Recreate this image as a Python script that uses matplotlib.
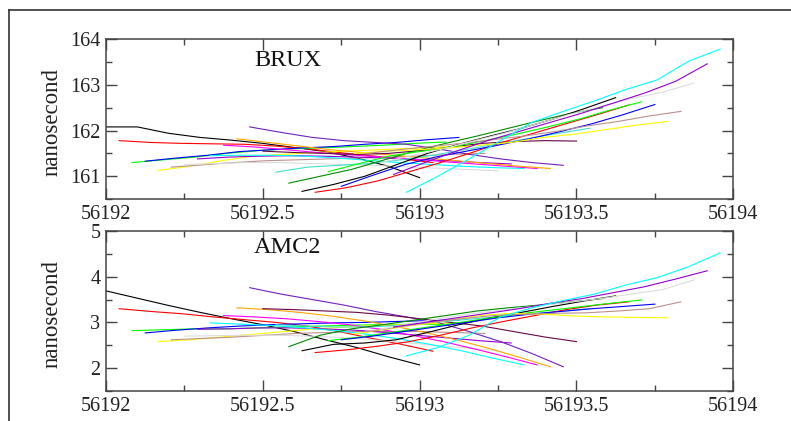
import matplotlib
matplotlib.use("Agg")
import matplotlib.pyplot as plt
from matplotlib.lines import Line2D
from matplotlib.ticker import MultipleLocator, FuncFormatter

# Hourly session starts (MJD); every arc covers one day
session_start = [
    56192.000, 56192.042, 56192.083, 56192.125, 56192.167, 56192.208,
    56192.250, 56192.292, 56192.333, 56192.375, 56192.417, 56192.458,
    56192.500, 56192.542, 56192.583, 56192.625, 56192.667, 56192.708,
    56192.750, 56192.792, 56192.833, 56192.875, 56192.917, 56192.958,
]
offset_days = [0.0, 0.1, 0.2, 0.3, 0.4, 0.5, 0.6, 0.7, 0.8, 0.9, 1.0]

# BRUX clock offset per session (ns)
brux_s00 = [162.08, 162.08, 161.94, 161.85, 161.79, 161.72, 161.63, 161.54, 161.40, 161.22, 160.97]
brux_s01 = [161.78, 161.74, 161.72, 161.71, 161.70, 161.66, 161.60, 161.52, 161.45, 161.38, 161.30]
brux_s02 = [161.30, 161.36, 161.42, 161.50, 161.56, 161.60, 161.62, 161.65, 161.68, 161.72, 161.75]
brux_s03 = [161.33, 161.40, 161.46, 161.54, 161.58, 161.62, 161.65, 161.70, 161.74, 161.80, 161.85]
brux_s04 = [161.13, 161.22, 161.34, 161.44, 161.48, 161.52, 161.55, 161.58, 161.61, 161.64, 161.67]
brux_s05 = [161.20, 161.25, 161.30, 161.34, 161.36, 161.38, 161.40, 161.42, 161.45, 161.48, 161.50]
brux_s06 = [161.25, 161.28, 161.30, 161.30, 161.28, 161.26, 161.24, 161.21, 161.18, 161.15, 161.12]
brux_s07 = [161.38, 161.42, 161.44, 161.45, 161.44, 161.42, 161.40, 161.37, 161.34, 161.30, 161.27]
brux_s08 = [161.45, 161.46, 161.46, 161.44, 161.40, 161.35, 161.30, 161.26, 161.22, 161.19, 161.17]
brux_s09 = [161.68, 161.64, 161.58, 161.52, 161.47, 161.42, 161.38, 161.32, 161.27, 161.22, 161.17]
brux_s10 = [161.82, 161.74, 161.66, 161.58, 161.52, 161.46, 161.40, 161.34, 161.28, 161.22, 161.17]
brux_s11 = [162.08, 161.96, 161.85, 161.78, 161.74, 161.70, 161.60, 161.48, 161.38, 161.30, 161.24]
brux_s12 = [161.55, 161.52, 161.50, 161.48, 161.50, 161.56, 161.64, 161.72, 161.76, 161.78, 161.77]
brux_s13 = [161.09, 161.20, 161.24, 161.28, 161.36, 161.46, 161.58, 161.70, 161.82, 161.94, 162.05]
brux_s14 = [160.85, 161.00, 161.15, 161.35, 161.55, 161.72, 161.88, 162.05, 162.22, 162.38, 162.50]
brux_s15 = [160.67, 160.82, 161.00, 161.25, 161.50, 161.70, 161.88, 162.05, 162.25, 162.48, 162.72]
brux_s16 = [160.65, 160.75, 160.90, 161.10, 161.30, 161.52, 161.75, 161.95, 162.15, 162.35, 162.56]
brux_s17 = [161.10, 161.28, 161.45, 161.55, 161.65, 161.78, 161.92, 162.08, 162.25, 162.45, 162.63]
brux_s18 = [160.78, 161.02, 161.25, 161.42, 161.55, 161.68, 161.82, 161.98, 162.15, 162.35, 162.57]
brux_s19 = [161.50, 161.55, 161.58, 161.62, 161.68, 161.74, 161.85, 161.92, 162.02, 162.12, 162.20]
brux_s20 = [161.50, 161.58, 161.65, 161.72, 161.80, 161.88, 161.98, 162.10, 162.20, 162.32, 162.42]
brux_s21 = [161.30, 161.45, 161.60, 161.78, 161.95, 162.15, 162.35, 162.52, 162.70, 162.84, 163.04]
brux_s22 = [161.04, 161.30, 161.55, 161.78, 161.98, 162.18, 162.38, 162.60, 162.82, 163.08, 163.46]
brux_s23 = [160.65, 161.00, 161.38, 161.78, 162.18, 162.42, 162.65, 162.90, 163.11, 163.52, 163.78]

# AMC2 clock offset per session (ns)
amc2_s00 = [3.69, 3.53, 3.37, 3.22, 3.08, 2.95, 2.80, 2.62, 2.45, 2.25, 2.07]
amc2_s01 = [3.30, 3.24, 3.19, 3.12, 3.06, 3.00, 2.92, 2.80, 2.66, 2.52, 2.37]
amc2_s02 = [2.82, 2.84, 2.86, 2.86, 2.88, 2.90, 2.92, 2.94, 2.95, 2.96, 2.96]
amc2_s03 = [2.77, 2.83, 2.88, 2.92, 2.95, 2.97, 2.99, 3.00, 3.02, 3.04, 3.05]
amc2_s04 = [2.58, 2.62, 2.68, 2.74, 2.80, 2.86, 2.90, 2.93, 2.96, 2.98, 3.00]
amc2_s05 = [2.62, 2.65, 2.68, 2.72, 2.76, 2.78, 2.80, 2.80, 2.80, 2.78, 2.76]
amc2_s06 = [2.70, 2.71, 2.72, 2.72, 2.70, 2.67, 2.62, 2.56, 2.50, 2.44, 2.38]
amc2_s07 = [2.85, 2.86, 2.88, 2.88, 2.86, 2.83, 2.78, 2.72, 2.66, 2.60, 2.55]
amc2_s08 = [2.99, 2.96, 2.93, 2.88, 2.82, 2.74, 2.64, 2.52, 2.38, 2.22, 2.07]
amc2_s09 = [3.15, 3.12, 3.08, 3.02, 2.95, 2.85, 2.72, 2.58, 2.42, 2.25, 2.07]
amc2_s10 = [3.32, 3.28, 3.22, 3.14, 3.04, 2.92, 2.78, 2.62, 2.44, 2.24, 2.03]
amc2_s11 = [3.76, 3.62, 3.50, 3.38, 3.24, 3.12, 3.00, 2.80, 2.58, 2.32, 2.03]
amc2_s12 = [3.30, 3.28, 3.25, 3.22, 3.16, 3.08, 3.00, 2.92, 2.80, 2.68, 2.58]
amc2_s13 = [2.95, 2.92, 2.90, 2.90, 2.94, 3.00, 3.06, 3.12, 3.18, 3.24, 3.30]
amc2_s14 = [2.47, 2.72, 2.86, 2.95, 3.05, 3.15, 3.25, 3.32, 3.38, 3.45, 3.52]
amc2_s15 = [2.38, 2.52, 2.55, 2.62, 2.78, 2.95, 3.10, 3.22, 3.35, 3.47, 3.58]
amc2_s16 = [2.34, 2.40, 2.48, 2.58, 2.72, 2.88, 3.02, 3.15, 3.28, 3.38, 3.45]
amc2_s17 = [2.60, 2.68, 2.78, 2.88, 2.98, 3.08, 3.18, 3.26, 3.34, 3.42, 3.49]
amc2_s18 = [2.62, 2.70, 2.80, 2.90, 3.00, 3.10, 3.18, 3.24, 3.30, 3.35, 3.40]
amc2_s19 = [2.75, 2.85, 2.95, 3.05, 3.15, 3.20, 3.18, 3.14, 3.12, 3.11, 3.10]
amc2_s20 = [2.80, 2.90, 3.00, 3.08, 3.15, 3.18, 3.20, 3.21, 3.25, 3.30, 3.45]
amc2_s21 = [2.85, 2.98, 3.10, 3.20, 3.28, 3.36, 3.44, 3.52, 3.62, 3.72, 3.93]
amc2_s22 = [2.90, 3.00, 3.10, 3.20, 3.30, 3.42, 3.52, 3.65, 3.78, 3.95, 4.13]
amc2_s23 = [2.27, 2.45, 2.72, 3.12, 3.32, 3.48, 3.62, 3.82, 3.98, 4.22, 4.52]

brux_sessions = [
    brux_s00, brux_s01, brux_s02, brux_s03, brux_s04, brux_s05, brux_s06, brux_s07,
    brux_s08, brux_s09, brux_s10, brux_s11, brux_s12, brux_s13, brux_s14, brux_s15,
    brux_s16, brux_s17, brux_s18, brux_s19, brux_s20, brux_s21, brux_s22, brux_s23,
]
amc2_sessions = [
    amc2_s00, amc2_s01, amc2_s02, amc2_s03, amc2_s04, amc2_s05, amc2_s06, amc2_s07,
    amc2_s08, amc2_s09, amc2_s10, amc2_s11, amc2_s12, amc2_s13, amc2_s14, amc2_s15,
    amc2_s16, amc2_s17, amc2_s18, amc2_s19, amc2_s20, amc2_s21, amc2_s22, amc2_s23,
]

# xmgrace default colour cycle (skipping white)
grace_colors = [
    "#000000", "#ff0000", "#00ff00", "#0000ff", "#ffff00", "#bc8f8f", "#dcdcdc",
    "#9400d3", "#00ffff", "#ff00ff", "#ffa500", "#7221bc", "#670748", "#40e0d0",
    "#008b00",
]

plt.rcParams["font.family"] = ["Liberation Serif", "DejaVu Serif"]
frame_color = "#444444"


def draw_panel(ax, sessions, station, ylim, label_y):
    for i, values in enumerate(sessions):
        t = [session_start[i] + d for d in offset_days]
        ax.plot(t, values, color=grace_colors[i % len(grace_colors)], linewidth=0.8)

    ax.set_xlim(56192, 56194)
    ax.set_ylim(*ylim)
    ax.xaxis.set_major_locator(MultipleLocator(0.5))
    ax.xaxis.set_minor_locator(MultipleLocator(0.25))
    ax.yaxis.set_major_locator(MultipleLocator(1))
    ax.yaxis.set_minor_locator(MultipleLocator(0.5))
    ax.xaxis.set_major_formatter(FuncFormatter(lambda v, _: f"{v:.6g}"))
    ax.yaxis.set_major_formatter(FuncFormatter(lambda v, _: f"{v:.6g}"))

    ax.tick_params(which="both", direction="in", top=True, right=True,
                   color=frame_color, width=1.0, labelsize=14.5, labelcolor="#222222")
    ax.tick_params(which="major", length=8, pad=4)
    ax.tick_params(which="minor", length=4.5)
    for spine in ax.spines.values():
        spine.set_color(frame_color)
        spine.set_linewidth(1.1)

    ax.set_ylabel("nanosecond", fontsize=16.5, color="#222222")
    ax.yaxis.set_label_coords(-0.069, 0.48)
    ax.text(0.29, label_y, station, transform=ax.transAxes, fontsize=17.5,
            ha="center", va="center", color="#111111")


fig = plt.figure(figsize=(7.91, 4.21), dpi=100)

ax_top = fig.add_axes([0.134, 0.527, 0.793, 0.380])
ax_bot = fig.add_axes([0.134, 0.0713, 0.793, 0.380])

draw_panel(ax_top, brux_sessions, "BRUX", (160.5, 164), 0.866)
draw_panel(ax_bot, amc2_sessions, "AMC2", (1.5, 5), 0.894)

# outer border along the left and top edges
fig.add_artist(Line2D([0.0114, 0.0114], [0.0, 0.976], color="#333333", linewidth=1.2))
fig.add_artist(Line2D([0.0114, 1.0], [0.976, 0.976], color="#333333", linewidth=1.2))

fig.savefig("out.png", dpi=100)
